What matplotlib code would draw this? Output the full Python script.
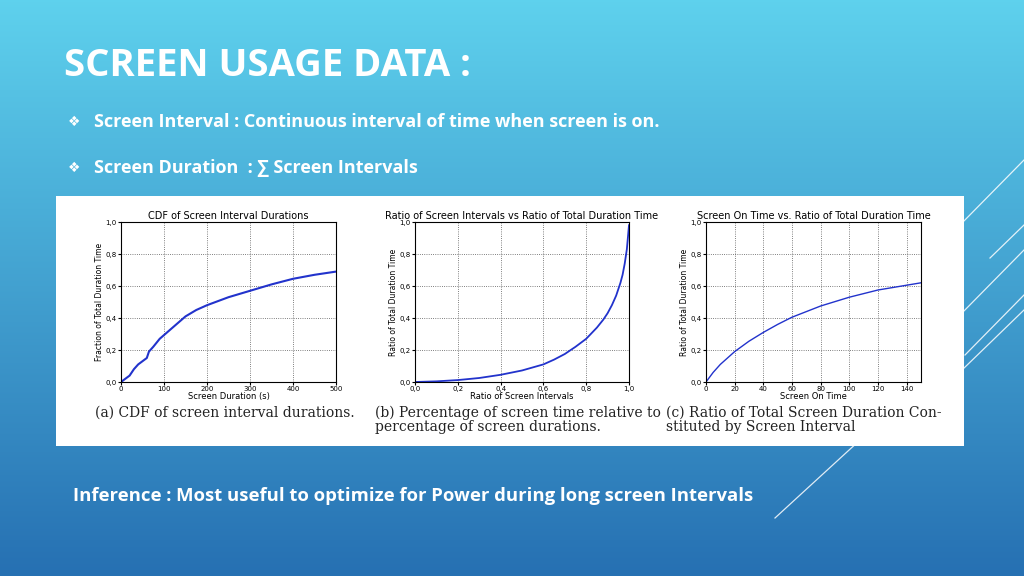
import numpy as np
import matplotlib.pyplot as plt
from matplotlib.lines import Line2D

# chart (a) CDF of screen interval durations
cdf_x = [0, 10, 20, 30, 40, 50, 60, 65, 75, 90, 120, 150, 175, 200, 250, 300, 350, 400, 450, 500]
cdf_y = [0, 0.02, 0.04, 0.08, 0.11, 0.13, 0.15, 0.19, 0.22, 0.27, 0.34, 0.41, 0.45, 0.48, 0.53, 0.57, 0.61, 0.645, 0.67, 0.69]
# chart (b) ratio of intervals vs ratio of total duration
ratio_x = [0, 0.1, 0.2, 0.3, 0.4, 0.5, 0.6, 0.65, 0.7, 0.75, 0.8, 0.85, 0.88, 0.9, 0.92, 0.94, 0.96, 0.97, 0.98, 0.99, 1.0]
ratio_y = [0, 0.004, 0.012, 0.025, 0.045, 0.072, 0.11, 0.14, 0.175, 0.22, 0.27, 0.34, 0.39, 0.43, 0.48, 0.54, 0.62, 0.67, 0.74, 0.83, 0.98]
# chart (c) screen on time vs ratio of total duration
on_x = [0, 5, 10, 20, 30, 40, 50, 60, 80, 100, 120, 140, 150]
on_y = [0, 0.06, 0.11, 0.19, 0.255, 0.31, 0.36, 0.405, 0.475, 0.53, 0.575, 0.605, 0.62]

W, H = 1024, 576
fig = plt.figure(figsize=(W / 100, H / 100), dpi=100)

# background gradient
bg = fig.add_axes([0, 0, 1, 1])
grad = np.linspace(0, 1, 256)[:, None]
top = np.array([0.37, 0.82, 0.93])
bot = np.array([0.15, 0.44, 0.70])
img = top + (bot - top) * grad[..., None]
bg.imshow(np.repeat(img, 2, axis=1), aspect='auto', extent=[0, 1, 0, 1])
bg.set_xlim(0, 1)
bg.set_ylim(0, 1)
bg.axis('off')

def px(x, y):
    return x / W, 1 - y / H

# decorative lines
for (x1, y1, x2, y2) in [(1024, 160, 960, 225), (1024, 250, 960, 315), (1024, 295, 965, 355),
                         (1024, 310, 900, 430), (860, 440, 775, 518), (1024, 225, 990, 258)]:
    a, b = px(x1, y1)
    c, d = px(x2, y2)
    fig.add_artist(Line2D([a, c], [b, d], color='white', lw=0.9, alpha=0.85))

txt = dict(color='white', fontweight='bold', family='Open Sans', va='center')
fig.text(*px(64, 66), 'SCREEN USAGE DATA :', fontsize=27.5, **txt)
fig.text(*px(68, 122), '❖', color='white', fontsize=10, family='DejaVu Sans', va='center')
fig.text(*px(94, 122), 'Screen Interval : Continuous interval of time when screen is on.',
         fontsize=13, **txt)
fig.text(*px(68, 168), '❖', color='white', fontsize=10, family='DejaVu Sans', va='center')
fig.text(*px(94, 168), 'Screen Duration  : ∑ Screen Intervals', fontsize=13, **txt)
fig.text(*px(73, 496), 'Inference : Most useful to optimize for Power during long screen Intervals',
         fontsize=13.3, **txt)

# white panel
x0, y0 = px(56, 446)
pan = fig.add_axes([x0, y0, (964 - 56) / W, (446 - 196) / H])
pan.set_facecolor('white')
pan.set_xticks([])
pan.set_yticks([])
for s in pan.spines.values():
    s.set_visible(False)

def make_ax(left, right, xs, ys, xlim, xticks, xtl, title, xlabel, ylabel, lw):
    l, b = px(left, 382)
    ax = fig.add_axes([l, b, (right - left) / W, 160 / H])
    ax.plot(xs, ys, color='#2233cc', lw=lw)
    ax.set_xlim(*xlim)
    ax.set_ylim(0, 1)
    ax.set_xticks(xticks)
    ax.set_xticklabels(xtl)
    ax.set_yticks([0, 0.2, 0.4, 0.6, 0.8, 1.0])
    ax.set_yticklabels(['0,0', '0,2', '0,4', '0,6', '0,8', '1,0'])
    ax.tick_params(labelsize=5, length=2, pad=1)
    ax.grid(True, ls=':', color='#555555', lw=0.6)
    ax.set_title(title, fontsize=7, pad=2)
    ax.set_xlabel(xlabel, fontsize=6, labelpad=0)
    ax.set_ylabel(ylabel, fontsize=5.5, labelpad=1)
    return ax

make_ax(121, 336, cdf_x, cdf_y, (0, 500), [0, 100, 200, 300, 400, 500],
        ['0', '100', '200', '300', '400', '500'], 'CDF of Screen Interval Durations',
        'Screen Duration (s)', 'Fraction of Total Duration Time', 1.5)
make_ax(415, 629, ratio_x, ratio_y, (0, 1), [0, 0.2, 0.4, 0.6, 0.8, 1.0],
        ['0,0', '0,2', '0,4', '0,6', '0,8', '1,0'],
        'Ratio of Screen Intervals vs Ratio of Total Duration Time',
        'Ratio of Screen Intervals', 'Ratio of Total Duration Time', 1.3)
make_ax(706, 921, on_x, on_y, (0, 150), [0, 20, 40, 60, 80, 100, 120, 140],
        ['0', '20', '40', '60', '80', '100', '120', '140'],
        'Screen On Time vs. Ratio of Total Duration Time',
        'Screen On Time', 'Ratio of Total Duration Time', 1.0)

cap = dict(fontsize=10, family='DejaVu Serif', va='top', color='#222222')
fig.text(*px(95, 406), '(a) CDF of screen interval durations.', **cap)
fig.text(*px(375, 406), '(b) Percentage of screen time relative to\npercentage of screen durations.',
         linespacing=1.0, **cap)
fig.text(*px(666, 406), '(c) Ratio of Total Screen Duration Con-\nstituted by Screen Interval',
         linespacing=1.0, **cap)

fig.savefig('out.png', dpi=100)
